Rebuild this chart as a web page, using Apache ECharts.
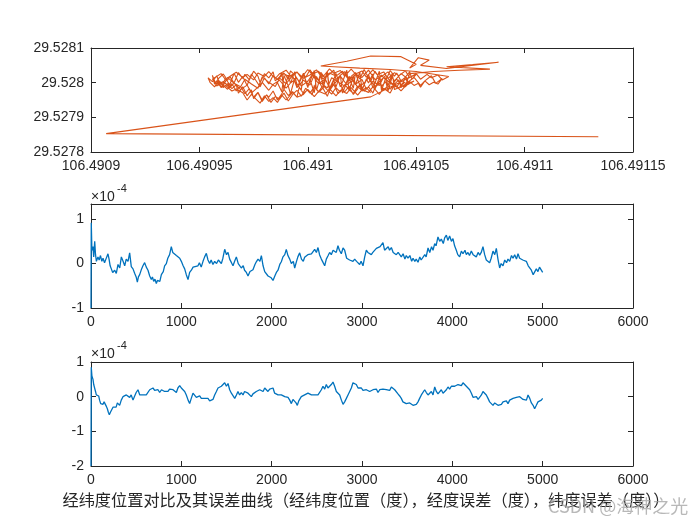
<!DOCTYPE html>
<html>
<head>
<meta charset="utf-8">
<script src="https://cdn.jsdelivr.net/npm/echarts@6/dist/echarts.min.js"></script>
<style>html,body{margin:0;padding:0;background:#fff;}#c{width:700px;height:525px;}</style>
</head>
<body>
<div id="c"></div>
<script>
// ---- Subplot 1: longitude / latitude track (degrees) ----
const trackLon = [
106.491134,106.490907,106.491029,
106.491050,106.491048,106.491047,106.491045,106.491043,106.491041,106.491040,106.491038,106.491036,106.491034,106.491033,106.491031,106.491029,106.491027,106.491026,106.491024,106.491022,106.491020,106.491019,106.491017,106.491015,106.491013,106.491012,106.491010,106.491008,106.491006,106.491005,106.491003,106.491001,106.490999,106.490998,106.490996,106.490994,106.490992,106.490991,106.490989,106.490987,106.490985,106.490984,106.490982,106.490980,106.490978,106.490977,106.490975,106.490973,106.490971,106.490970,106.490968,106.490966,106.490964,106.490963,106.490961,106.490959,106.490957,106.490956,
106.490958,106.490960,106.490961,106.490963,106.490965,106.490967,106.490968,106.490970,106.490972,106.490974,106.490975,106.490977,106.490979,106.490981,106.490982,106.490984,106.490986,106.490988,106.490989,106.490991,106.490993,106.490995,106.490996,106.490998,106.491000,106.491002,106.491003,106.491005,106.491007,106.491009,106.491010,106.491012,106.491014,106.491016,106.491017,106.491019,106.491021,106.491023,106.491024,106.491026,106.491028,106.491030,106.491031,106.491033,106.491035,106.491037,106.491038,106.491040,106.491042,106.491044,106.491045,106.491047,106.491049,106.491051,106.491052,106.491054,106.491056,106.491058,106.491060,
106.491062,106.491059,106.491057,106.491054,106.491052,106.491049,106.491046,106.491044,106.491041,106.491039,106.491036,106.491033,106.491031,106.491028,106.491026,106.491023,106.491021,106.491018,106.491015,106.491013,106.491010,106.491008,106.491005,106.491002,106.491000,106.490997,106.490995,106.490992,106.490990,106.490987,106.490984,106.490982,106.490979,106.490977,106.490974,106.490972,106.490969,106.490966,106.490964,106.490961,106.490959,106.490956,
106.490957,106.490960,106.490962,106.490965,106.490967,106.490970,106.490972,106.490975,106.490977,106.490980,106.490982,106.490985,106.490987,106.490990,106.490992,106.490995,106.490997,106.491000,106.491002,106.491005,106.491007,106.491010,106.491012,106.491015,106.491017,106.491020,106.491022,106.491025,106.491027,106.491030,106.491032,106.491035,106.491037,106.491040,106.491042,106.491045,106.491047,106.491050,106.491052,106.491055,106.491057,106.491060,106.491062,106.491065,
106.491050,106.491038,106.491024,106.491012,106.491006,106.491018,106.491029,106.491043,106.491050,106.491047,106.491051,106.491056,106.491052,106.491064,106.491088,106.491076,106.491064,106.491084,106.491070,106.491058,106.491047,
106.491045,106.491043,106.491040,106.491038,106.491035,106.491033,106.491030,106.491028,106.491025,106.491023,106.491020,106.491018,106.491015,106.491013,106.491010,106.491008,106.491005,106.491003,106.491000,106.490998,106.490995,106.490993,106.490990,106.490988,106.490986,106.490984,106.490982,106.490980,106.490978,106.490976,106.490974,106.490972,106.490970,106.490967,106.490965,106.490962,106.490960,
106.490958,106.490961,106.490963,106.490966,106.490969,106.490971,106.490974,106.490977,106.490979,106.490982,106.490985,106.490987,106.490990,106.490993,106.490995,106.490998,106.491001,106.491003,106.491006,106.491009,106.491011,106.491014,106.491017,106.491019,106.491022,106.491025,106.491027,106.491030,106.491033,106.491035,106.491038,106.491041,106.491043,106.491046,106.491049,
106.491040,106.491039,106.491037,106.491036,106.491034,106.491033,106.491031,106.491030,106.491028,106.491027,106.491025,106.491024,106.491022,106.491021,106.491019,106.491018,106.491016,106.491015,106.491013,106.491012,106.491010,106.491009,106.491007,106.491006,106.491004,106.491003,106.491001,106.491000,106.490998,106.490997,106.490995,106.490994,106.490992,106.490991,106.490989,106.490988,106.490986,
106.490986,106.490988,106.490989,106.490991,106.490992,106.490994,106.490995,106.490997,106.490998,106.491000,106.491001,106.491003,106.491004,106.491006,106.491007,106.491009,106.491010,106.491012,106.491013,106.491015,106.491016,106.491018,106.491019,106.491021,106.491022,106.491024,106.491025,106.491027,106.491028,106.491030,106.491031,106.491033,106.491034,106.491036,106.491037,106.491039,106.491040,106.491042,106.491043,106.491045,106.491046,
106.491046,106.491043,106.491040,106.491037,106.491034,106.491031,106.491028,106.491025,106.491022,106.491019,106.491016,106.491013,106.491010,106.491007,106.491004,106.491001,106.490998,106.490995,106.490992,106.490989,106.490986,106.490984,106.490982,106.490980,106.490978,106.490976,106.490974,106.490972,106.490970,106.490968,106.490966,106.490964,106.490962,106.490960,106.490958,106.490956,106.490954,
106.490955,106.490957,106.490959,106.490961,106.490963,106.490965,106.490967,106.490969,106.490971,106.490973,106.490975,106.490977,106.490979,106.490981,106.490983,106.490985,106.490987,106.490989,106.490991,106.490993,106.490995,106.490997,106.490999,106.491001,106.491003,106.491005,106.491007,106.491009,106.491011,106.491013,106.491015,106.491017,106.491019,106.491021,106.491023,106.491025,106.491027,106.491029
];
const trackLat = [
29.527844,29.527853,29.527959,
29.528024,29.528010,29.528031,29.528016,29.528005,29.528028,29.528019,29.528035,29.528007,29.528022,29.528014,29.528033,29.528003,29.528026,29.528038,29.528011,29.528029,29.528018,29.528004,29.528032,29.528021,29.528009,29.528036,29.528025,29.528013,29.528030,29.528006,29.528019,29.528037,29.528015,29.528027,29.528003,29.528022,29.528034,29.528010,29.528028,29.528017,29.528005,29.528031,29.528014,29.528026,29.528000,29.528019,29.528033,29.528008,29.528024,29.528012,29.528029,29.527999,29.528018,29.528007,29.528025,29.528013,29.527996,29.528021,
29.527990,29.528002,29.527986,29.527997,29.527983,29.527994,29.527970,29.527988,29.527962,29.527979,29.527954,29.527971,29.527946,29.527965,29.527958,29.527976,29.527950,29.527968,29.527981,29.527963,29.527974,29.527958,29.527986,29.527969,29.527980,29.527965,29.527992,29.527972,29.527984,29.527961,29.527977,29.527995,29.527968,29.527983,29.527973,29.527990,29.527966,29.527982,29.527997,29.527975,29.527988,29.527970,29.527986,29.527999,29.527978,29.527992,29.527981,29.527996,29.527984,29.528000,29.527988,29.528003,29.527992,29.527998,29.527987,29.528005,29.527994,29.528001,29.527996,
29.528012,29.527998,29.528020,29.528005,29.527992,29.528015,29.528001,29.527988,29.528010,29.527996,29.528021,29.528003,29.527989,29.528014,29.527999,29.527986,29.528008,29.527994,29.528019,29.528002,29.527985,29.528011,29.527997,29.528023,29.528004,29.527990,29.528013,29.527999,29.527984,29.528007,29.527995,29.527978,29.528001,29.527987,29.527970,29.527993,29.527980,29.527999,29.527986,29.528004,29.527992,29.528010,
29.528014,29.528026,29.528009,29.528022,29.528030,29.528015,29.528024,29.528008,29.528028,29.528018,29.528032,29.528012,29.528026,29.528036,29.528020,29.528031,29.528014,29.528038,29.528024,29.528033,29.528017,29.528040,29.528027,29.528035,29.528019,29.528039,29.528025,29.528034,29.528016,29.528037,29.528023,29.528031,29.528012,29.528029,29.528020,29.528034,29.528015,29.528026,29.528010,29.528024,29.528014,29.528022,29.528008,29.528018,
29.528032,29.528038,29.528042,29.528046,29.528048,29.528062,29.528077,29.528075,29.528053,29.528042,29.528072,29.528065,29.528050,29.528041,29.528059,29.528052,29.528046,29.528039,29.528036,29.528032,29.528026,
29.527990,29.527976,29.527995,29.527970,29.527984,29.527966,29.527988,29.527972,29.527980,29.527964,29.527986,29.527969,29.527978,29.527962,29.527983,29.527967,29.527975,29.527960,29.527981,29.527966,29.527958,29.527972,29.527950,29.527964,29.527943,29.527957,29.527946,29.527962,29.527941,29.527953,29.527966,29.527950,29.527971,29.527982,29.527976,29.527992,29.527986,
29.528005,29.527992,29.528015,29.527998,29.527988,29.528010,29.527996,29.527984,29.528017,29.528001,29.527989,29.528013,29.527997,29.528020,29.527986,29.528007,29.527993,29.528022,29.527999,29.527985,29.528014,29.528002,29.527990,29.528018,29.527995,29.528009,29.527981,29.528004,29.527992,29.528016,29.527999,29.527987,29.528008,29.527994,29.528005,
29.527980,29.528028,29.527991,29.528015,29.527977,29.528033,29.527999,29.527986,29.528024,29.528007,29.527981,29.528030,29.527994,29.528019,29.527976,29.528036,29.528002,29.527988,29.528027,29.528010,29.527983,29.528031,29.527996,29.528021,29.527978,29.528035,29.528004,29.527989,29.528026,29.528012,29.527985,29.528032,29.527998,29.528022,29.527980,29.528029,29.528000,
29.528005,29.527974,29.528021,29.527990,29.527968,29.528013,29.527997,29.527979,29.528026,29.527986,29.528009,29.527971,29.528018,29.527993,29.527982,29.528029,29.527975,29.528007,29.527988,29.528023,29.527970,29.528001,29.528015,29.527984,29.528028,29.527992,29.527977,29.528011,29.527999,29.528025,29.527981,29.528014,29.527990,29.528003,29.527976,29.528019,29.527996,29.528008,29.527985,29.528017,29.527999,
29.528012,29.528026,29.528005,29.528031,29.528018,29.528009,29.528036,29.528015,29.528024,29.528007,29.528033,29.528019,29.528028,29.528011,29.528037,29.528022,29.528013,29.528030,29.528016,29.528026,29.528009,29.528021,29.527996,29.528014,29.527988,29.528007,29.528025,29.527992,29.528018,29.528001,29.528027,29.527994,29.528012,29.527986,29.528020,29.528003,29.528014,
29.528000,29.527988,29.528006,29.527992,29.527981,29.527997,29.527976,29.527989,29.527968,29.527983,29.527958,29.527972,29.527949,29.527965,29.527943,29.527960,29.527952,29.527970,29.527947,29.527966,29.527978,29.527961,29.527984,29.527970,29.527988,29.527974,29.527992,29.527979,29.527967,29.527986,29.527973,29.527995,29.527980,29.527969,29.527990,29.527976,29.527986,29.527971
];
const trackLonTicks = [106.4909, 106.49095, 106.491, 106.49105, 106.4911, 106.49115];
const trackLatTicks = [29.5278, 29.5279, 29.528, 29.5281];

// ---- Subplot 2: longitude error (x 1e-4 degree) ----
const lonErrIdx = [0,3,10,22,30,41,50,60,77,90,105,120,133,150,165,188,200,212,225,240,262,280,299,318,336,355,373,390,410,428,446,465,483,500,513,525,539,560,575,594,612,631,650,668,680,694,708,723,735,749,762,779,800,815,834,850,870,889,905,926,945,962,982,1000,1020,1037,1055,1074,1092,1111,1130,1150,1184,1200,1220,1240,1258,1277,1295,1314,1330,1350,1369,1390,1410,1443,1460,1480,1500,1517,1535,1555,1572,1590,1609,1630,1664,1685,1700,1720,1738,1760,1793,1815,1830,1849,1870,1886,1905,1923,1945,1960,1978,1995,2015,2035,2052,2070,2090,2107,2125,2145,2162,2180,2200,2218,2240,2255,2275,2290,2310,2330,2350,2365,2385,2400,2421,2440,2460,2476,2495,2513,2530,2550,2570,2587,2605,2625,2642,2660,2680,2697,2715,2734,2750,2771,2790,2808,2830,2863,2880,2900,2919,2940,2960,2974,2990,3011,3030,3048,3065,3085,3103,3120,3140,3159,3180,3200,3232,3250,3269,3290,3305,3325,3345,3365,3380,3400,3420,3435,3455,3475,3490,3509,3530,3550,3565,3585,3600,3620,3640,3655,3675,3695,3710,3731,3750,3770,3786,3805,3820,3841,3860,3878,3900,3915,3934,3950,3970,3990,4007,4025,4044,4060,4081,4100,4118,4140,4155,4173,4190,4210,4230,4247,4265,4285,4303,4320,4339,4358,4376,4395,4413,4430,4450,4470,4487,4505,4524,4540,4561,4580,4600,4616,4635,4655,4672,4690,4710,4727,4745,4764,4780,4800,4819,4840,4856,4875,4895,4911,4930,4948,4965,4985,5000];
const lonErrE4 = [-1.0,0.92,0.3,0.38,0.15,0.5,0.2,0.05,0.15,0.08,0.18,0.05,0.12,0.02,0.1,0.22,0.1,-0.05,-0.12,-0.2,-0.15,-0.22,-0.02,-0.1,0.15,0.05,-0.05,0.1,0.05,0.24,-0.07,-0.12,-0.22,-0.3,-0.42,-0.3,-0.25,-0.12,-0.05,0.02,-0.08,-0.15,-0.28,-0.36,-0.3,-0.4,-0.35,-0.45,-0.38,-0.35,-0.4,-0.25,-0.18,-0.05,0.0,0.12,0.2,0.38,0.25,0.28,0.18,0.22,0.12,0.05,-0.05,-0.12,-0.25,-0.36,-0.2,-0.15,-0.08,-0.12,-0.05,0.02,-0.08,0.05,0.15,0.23,0.08,0.0,0.08,-0.02,0.05,0.0,0.08,0.0,0.12,0.32,0.2,0.25,0.1,0.02,-0.05,0.05,0.15,0.0,-0.1,-0.05,-0.15,-0.2,-0.28,-0.18,-0.14,-0.02,0.04,0.1,0.05,0.18,-0.05,-0.18,-0.15,-0.28,-0.25,-0.32,-0.38,-0.28,-0.2,-0.15,-0.02,0.04,0.15,0.2,0.32,0.18,0.1,0.0,0.05,-0.1,0.05,0.15,0.24,0.1,0.05,0.14,0.15,0.2,0.16,0.22,0.2,0.32,0.25,0.36,0.2,0.1,0.02,-0.05,0.1,0.18,0.25,0.2,0.3,0.34,0.25,0.4,0.3,0.22,0.35,0.3,0.12,0.08,0.12,0.05,0.1,0.05,0.08,-0.02,0.05,-0.05,0.15,0.3,0.25,0.28,0.2,0.25,0.22,0.34,0.3,0.38,0.47,0.3,0.26,0.38,0.3,0.36,0.25,0.28,0.2,0.25,0.22,0.15,0.22,0.1,0.18,0.12,0.18,0.05,0.12,0.05,0.1,0.03,0.15,0.08,0.05,0.2,0.15,0.35,0.25,0.38,0.3,0.45,0.4,0.6,0.5,0.55,0.45,0.58,0.64,0.52,0.62,0.5,0.56,0.4,0.3,0.2,0.15,0.28,0.22,0.3,0.2,0.25,0.18,0.28,0.2,0.24,0.15,0.25,0.19,0.25,0.38,0.2,0.08,0.12,0.02,0.12,0.28,0.2,0.34,0.1,-0.1,0.0,-0.05,0.08,0.02,0.1,0.05,0.18,0.12,0.2,0.1,0.22,0.12,0.16,0.08,0.1,0.05,-0.05,-0.08,-0.15,-0.25,-0.22,-0.12,-0.18,-0.08,-0.12,-0.2];

// ---- Subplot 3: latitude error (x 1e-4 degree) ----
const latErrIdx = [0,3,10,22,30,41,50,59,70,85,95,107,120,133,145,159,170,181,192,203,215,229,245,262,278,292,305,317,335,354,372,391,410,428,445,465,480,500,520,540,557,575,594,612,631,650,668,686,705,722,742,760,780,797,815,835,852,870,890,908,925,945,962,982,1000,1019,1037,1055,1075,1092,1110,1129,1148,1166,1185,1203,1221,1240,1258,1277,1295,1314,1332,1350,1369,1388,1406,1425,1443,1462,1480,1499,1517,1535,1554,1572,1591,1610,1627,1645,1664,1683,1700,1720,1738,1757,1775,1793,1812,1830,1849,1868,1886,1905,1923,1942,1959,1978,1997,2015,2033,2052,2070,2090,2107,2125,2145,2162,2181,2200,2218,2236,2255,2270,2284,2300,2328,2345,2365,2384,2402,2421,2440,2458,2476,2495,2513,2531,2550,2568,2587,2605,2623,2642,2660,2679,2697,2716,2735,2753,2772,2790,2808,2827,2845,2863,2882,2900,2919,2937,2956,2975,2993,3011,3030,3048,3066,3085,3103,3122,3140,3159,3177,3196,3214,3232,3251,3269,3288,3306,3325,3343,3362,3380,3398,3417,3435,3453,3472,3490,3509,3528,3546,3565,3583,3601,3620,3638,3657,3675,3694,3712,3731,3749,3768,3786,3805,3823,3841,3860,3878,3897,3915,3934,3952,3970,3989,4007,4026,4044,4063,4081,4100,4118,4137,4155,4174,4192,4211,4229,4248,4266,4285,4303,4322,4339,4358,4376,4395,4413,4432,4450,4469,4487,4506,4524,4543,4561,4580,4598,4616,4635,4653,4672,4690,4709,4727,4746,4764,4783,4801,4820,4838,4857,4875,4894,4911,4930,4948,4967,4985,5000];
const latErrE4 = [-2.0,0.85,0.6,0.5,0.35,0.3,0.15,0.05,0.0,0.02,-0.1,-0.2,-0.18,-0.22,-0.15,-0.18,-0.28,-0.35,-0.45,-0.52,-0.45,-0.4,-0.3,-0.25,-0.3,-0.18,-0.22,-0.25,-0.1,0.0,-0.05,0.05,0.0,-0.02,0.05,-0.1,0.0,0.12,0.2,0.05,0.0,0.05,0.1,0.05,0.1,0.2,0.15,0.25,0.18,0.22,0.2,0.12,0.2,0.22,0.15,0.2,0.15,0.22,0.18,0.2,0.15,0.12,0.25,0.32,0.25,0.28,0.15,0.05,-0.1,-0.2,-0.05,0.1,0.05,-0.02,-0.05,0.02,-0.05,-0.1,-0.05,-0.08,-0.05,-0.12,-0.15,-0.08,0.05,0.15,0.25,0.2,0.3,0.25,0.4,0.3,0.38,0.2,0.1,0.05,-0.05,0.05,0.15,0.05,0.12,0.05,0.15,0.2,0.1,0.05,0.0,0.08,0.05,0.15,0.1,0.2,0.22,0.15,0.25,0.2,0.15,0.22,0.18,0.25,0.1,0.05,0.05,0.1,0.05,0.08,0.0,0.05,-0.02,-0.1,-0.2,-0.08,-0.1,-0.18,-0.25,-0.12,0.0,-0.02,0.05,0.05,0.1,0.12,0.05,0.08,0.05,0.1,0.05,0.1,0.2,0.3,0.22,0.35,0.25,0.25,0.35,0.42,0.3,0.15,0.2,0.05,-0.1,-0.22,-0.15,-0.05,0.05,0.1,0.25,0.4,0.35,0.35,0.25,0.3,0.25,0.18,0.22,0.2,0.25,0.15,0.12,0.2,0.18,0.22,0.12,0.2,0.15,0.22,0.2,0.2,0.25,0.18,0.28,0.25,0.2,0.15,0.08,0.02,-0.05,-0.15,-0.12,-0.2,-0.25,-0.18,-0.2,-0.25,-0.3,-0.22,-0.15,-0.05,0.05,0.0,0.2,0.12,0.05,0.1,0.15,0.05,0.28,0.15,0.08,0.12,0.2,0.1,0.15,0.2,0.28,0.22,0.3,0.25,0.3,0.28,0.35,0.38,0.32,0.4,0.35,0.3,0.35,0.2,0.1,-0.02,-0.05,0.0,-0.08,-0.1,0.05,0.15,0.1,0.05,-0.05,-0.15,-0.2,-0.25,-0.18,-0.2,-0.25,-0.3,-0.22,-0.15,-0.2,-0.12,-0.2,-0.1,-0.15,-0.05,-0.08,-0.02,-0.05,0.0,-0.03,-0.08,-0.05,-0.1,0.05,-0.05,-0.18,-0.25,-0.35,-0.25,-0.15,-0.12,-0.1,-0.05];

const sampleTicks = [0, 1000, 2000, 3000, 4000, 5000, 6000];
const lonErrTicks = [-1, 0, 1];
const latErrTicks = [-2, -1, 0, 1];

const captionText = '经纬度位置对比及其误差曲线（经纬度位置（度），经度误差（度），纬度误差（度））';

// ---------------------------------------------------------------
const chart = echarts.init(document.getElementById('c'), null, {renderer: 'canvas'});
const FONT = '"Liberation Sans", Arial, sans-serif';
const INK = '#262626';

function pairs(xs, ys) { return xs.map((x, i) => [x, ys[i]]); }
function fmt(dec) { return v => String(parseFloat(v.toFixed(dec))); }
function step(t) { return t[1] - t[0]; }

const grids = [
  {left: 91, right: 67, top: 48, height: 104},
  {left: 91, right: 67, top: 204, height: 104},
  {left: 91, right: 67, top: 362, height: 104}
];

function xAx(gi, ticks, dec, labels) {
  return {
    type: 'value', gridIndex: gi, position: labels ? 'bottom' : 'top',
    min: ticks[0], max: ticks[ticks.length - 1], interval: step(ticks),
    axisLine: {show: true, onZero: false, lineStyle: {color: INK, width: 1}},
    axisTick: {show: true, inside: true, length: 5, lineStyle: {color: INK}},
    axisLabel: {show: labels, color: INK, fontFamily: FONT, fontSize: 14, margin: 7, formatter: fmt(dec)},
    splitLine: {show: false}
  };
}
function yAx(gi, ticks, maxV, dec, labels) {
  return {
    type: 'value', gridIndex: gi, position: labels ? 'left' : 'right',
    min: ticks[0], max: maxV, interval: step(ticks),
    axisLine: {show: true, onZero: false, lineStyle: {color: INK, width: 1}},
    axisTick: {show: true, inside: true, length: 5, lineStyle: {color: INK}},
    axisLabel: {show: labels, color: INK, fontFamily: FONT, fontSize: 14, margin: 7, formatter: fmt(dec),
                showMaxLabel: maxV === ticks[ticks.length - 1]},
    splitLine: {show: false}
  };
}

const lonErrTop = 1.34;
const option = {
  animation: false,
  backgroundColor: '#ffffff',
  grid: grids,
  xAxis: [
    xAx(0, trackLonTicks, 5, true), xAx(0, trackLonTicks, 5, false),
    xAx(1, sampleTicks, 0, true), xAx(1, sampleTicks, 0, false),
    xAx(2, sampleTicks, 0, true), xAx(2, sampleTicks, 0, false)
  ],
  yAxis: [
    yAx(0, trackLatTicks, trackLatTicks[trackLatTicks.length - 1], 4, true), yAx(0, trackLatTicks, trackLatTicks[trackLatTicks.length - 1], 4, false),
    yAx(1, lonErrTicks, lonErrTop, 0, true), yAx(1, lonErrTicks, lonErrTop, 0, false),
    yAx(2, latErrTicks, latErrTicks[latErrTicks.length - 1], 0, true), yAx(2, latErrTicks, latErrTicks[latErrTicks.length - 1], 0, false)
  ],
  series: [
    {type: 'line', xAxisIndex: 0, yAxisIndex: 0, data: pairs(trackLon, trackLat), showSymbol: false, symbol: 'none',
     lineStyle: {color: '#D95319', width: 1.1}, clip: true},
    {type: 'line', xAxisIndex: 2, yAxisIndex: 2, data: pairs(lonErrIdx, lonErrE4), showSymbol: false, symbol: 'none',
     lineStyle: {color: '#0072BD', width: 1.3}, clip: true},
    {type: 'line', xAxisIndex: 4, yAxisIndex: 4, data: pairs(latErrIdx, latErrE4), showSymbol: false, symbol: 'none',
     lineStyle: {color: '#0072BD', width: 1.3}, clip: true}
  ],
  graphic: [
    {type: 'text', left: 91, top: 190, style: {text: '×10', fill: INK, font: '14px ' + FONT}},
    {type: 'text', left: 117, top: 183, style: {text: '-4', fill: INK, font: '11px ' + FONT}},
    {type: 'text', left: 91, top: 347, style: {text: '×10', fill: INK, font: '14px ' + FONT}},
    {type: 'text', left: 117, top: 340, style: {text: '-4', fill: INK, font: '11px ' + FONT}},
    {type: 'text', x: 366, y: 500, style: {text: captionText, fill: INK, font: '16.2px "Noto Sans CJK SC", sans-serif', textAlign: 'center', textVerticalAlign: 'middle'}},
    {type: 'text', left: 548, top: 497, style: {text: 'CSDN @海神之光', fill: 'rgba(160,160,160,0.75)', font: '18px "Noto Sans CJK SC", sans-serif'}}
  ]
};
chart.setOption(option);
</script>
</body>
</html>
